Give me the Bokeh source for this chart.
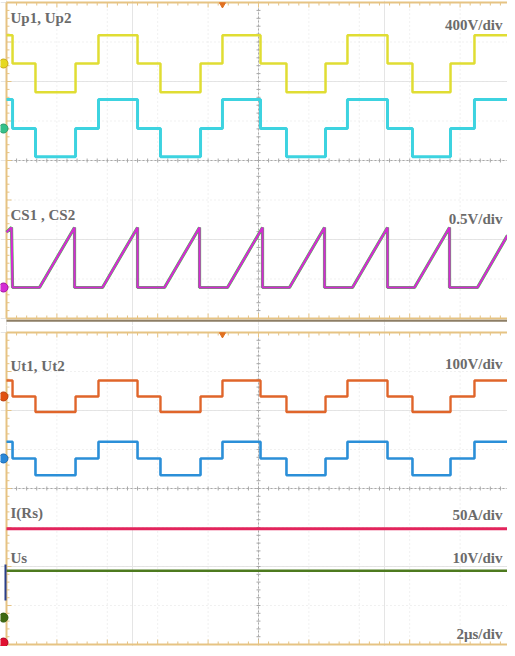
import numpy as np
from bokeh.plotting import figure
from bokeh.models import Range1d, Label
from bokeh.layouts import column
from bokeh.embed import file_html
from bokeh.resources import INLINE

# ---------------- data (time in microseconds, 2 us/div) ----------------
step_t = [-10.0, -9.76, -8.85, -7.26, -6.35, -4.80, -3.89, -2.30, -1.43, 0.08,
          1.11, 2.66, 3.53, 5.12, 6.11, 7.62, 8.57, 9.88]
up1_v = [285, 0, -290, 0, 285, 0, -290, 0, 285, 0, -290, 0, 285, 0, -290, 0, 285, 285]
up2_v = [295, 0, -285, 0, 295, 0, -285, 0, 295, 0, -285, 0, 295, 0, -285, 0, 295, 295]
ut1_v = [41, 0, -40, 0, 41, 0, -40, 0, 41, 0, -40, 0, 41, 0, -40, 0, 41, 41]
ut2_v = [43, 0, -43, 0, 43, 0, -43, 0, 43, 0, -43, 0, 43, 0, -43, 0, 43, 43]

cs_t = [-10.0, -9.80, -9.76, -8.69, -7.30, -7.30, -6.19, -4.80, -4.80, -3.73,
        -2.34, -2.34, -1.23, 0.16, 0.16, 1.23, 2.62, 2.62, 3.73, 5.12, 5.12,
        6.19, 7.58, 7.58, 8.69, 9.88]
cs_v = [0.70, 0.76, 0.0, 0.0, 0.76, 0.0, 0.0, 0.76, 0.0, 0.0,
        0.76, 0.0, 0.0, 0.76, 0.0, 0.0, 0.76, 0.0, 0.0, 0.76, 0.0,
        0.0, 0.76, 0.0, 0.0, 0.66]

flat_t = [-10.0, 9.88]
irs_a = [146, 146]
us_v = [12.0, 12.0]
trigger_t = -1.43

scales = {"up": 400, "cs": 0.5, "ut": 100, "irs": 50, "us": 10}
labels_top = ["Up1, Up2", "400V/div", "CS1 , CS2", "0.5V/div"]
labels_bot = ["Ut1, Ut2", "100V/div", "I(Rs)", "50A/div", "Us", "10V/div", "2\u03bcs/div"]

# ---------------- layout / style ----------------
PX_US = 25.2
TAN = "#e6c383"
GRID = "#e2e2e2"
CENTER = "#a8a8a8"
TXT = "#6b6b6b"
FONT = "Liberation Serif"

offs = {"up1": 2.456, "up2": 0.81, "cs": -3.215, "ut1": 2.36, "ut2": 0.77,
        "irs": -3.95, "us": -3.31}


def to_div(vals, off, scale):
    return [off + v / scale for v in vals]


def make_panel(height, y_range, px_div):
    p = figure(width=507, height=height,
               x_range=Range1d(-10.238, 9.881), y_range=Range1d(*y_range),
               output_backend="svg", toolbar_location=None,
               x_axis_location=None, y_axis_location=None, min_border=0,
               outline_line_color=None, background_fill_color="white",
               border_fill_color="white")
    # faint grid
    gx = np.arange(-8, 9.9, 2.0)
    gx = gx[np.abs(gx) > 1e-6]
    p.segment(x0=gx, y0=[-4] * len(gx), x1=gx, y1=[4] * len(gx),
              line_color=GRID, line_width=1, line_dash="1 3")
    gy = np.arange(-3, 3.5, 1.0)
    gy = gy[np.abs(gy) > 1e-6]
    p.segment(x0=[-10] * len(gy), y0=gy, x1=[9.88] * len(gy), y1=gy,
              line_color=GRID, line_width=1, line_dash="1 3")
    # center cross
    p.segment(x0=[0, -10], y0=[-4, 0], x1=[0, 9.88], y1=[4, 0],
              line_color=CENTER, line_width=1, line_dash="2 2")
    tx = np.arange(-9.6, 9.9, 0.4)
    p.segment(x0=tx, y0=[-2.0 / px_div] * len(tx), x1=tx, y1=[2.0 / px_div] * len(tx),
              line_color=CENTER, line_width=1)
    ty = np.arange(-3.8, 3.9, 0.2)
    p.segment(x0=[-2.0 / PX_US] * len(ty), y0=ty, x1=[2.0 / PX_US] * len(ty), y1=ty,
              line_color=CENTER, line_width=1)
    # border ticks
    bx = np.arange(-9.6, 9.9, 0.4)
    blen = [5.0 if abs(v / 2 - round(v / 2)) < 1e-6 else 3.0 for v in bx]
    p.segment(x0=bx, y0=[4] * len(bx), x1=bx, y1=[4 - l / px_div for l in blen],
              line_color=TAN, line_width=1)
    p.segment(x0=bx, y0=[-4] * len(bx), x1=bx, y1=[-4 + l / px_div for l in blen],
              line_color=TAN, line_width=1)
    by = np.arange(-3.8, 3.9, 0.2)
    llen = [5.0 if abs(v - round(v)) < 1e-6 else 3.0 for v in by]
    p.segment(x0=[-10] * len(by), y0=by, x1=[-10 + l / PX_US for l in llen], y1=by,
              line_color=TAN, line_width=1)
    # borders
    p.line([-10, -10], [-4, 4], line_color=TAN, line_width=2)
    p.line([-10, 9.9], [4, 4], line_color=TAN, line_width=2)
    p.line([-10, 9.9], [-4, -4], line_color=TAN, line_width=2)
    p.scatter(x=[trigger_t], y=[4 - 2.0 / px_div], marker="inverted_triangle",
              size=6, fill_color="#e07020", line_color="#e07020")
    return p


def add_label(p, text, x, y, align="left"):
    p.add_layout(Label(x=x, y=y, text=text, text_font=FONT, text_font_style="bold",
                       text_font_size="15px", text_color=TXT, text_align=align,
                       text_baseline="middle"))


# ---------------- top panel ----------------
p1 = make_panel(325, (-4.177, 4.051), 39.5)
p1.line([-10, 9.9], [-4 - 2.2 / 39.5] * 2, line_color="#8d7e66", line_width=2)
p1.step(step_t, to_div(up1_v, offs["up1"], scales["up"]), mode="after",
        line_color="#e0dd33", line_width=2.5)
p1.step(step_t, to_div(up2_v, offs["up2"], scales["up"]), mode="after",
        line_color="#3dd3e0", line_width=3)
p1.line(cs_t, to_div(cs_v, offs["cs"], scales["cs"]), line_color="#4cc04c", line_width=3.2)
p1.line(cs_t, to_div(cs_v, offs["cs"], scales["cs"]), line_color="#d42bd4", line_width=2.2)
p1.scatter(x=[-10.12] * 3, y=[offs["up1"], offs["up2"], offs["cs"]], size=9,
           fill_color=["#e6d820", "#35c08a", "#d42bd4"],
           line_color=["#c8a818", "#2a9a6a", "#a010a0"])

add_label(p1, labels_top[0], -9.84, 3.62)
add_label(p1, labels_top[1], 9.68, 3.44, "right")
add_label(p1, labels_top[2], -9.84, -1.39)
add_label(p1, labels_top[3], 9.68, -1.49, "right")

# ---------------- bottom panel ----------------
p2 = make_panel(321, (-4.051, 4.179), 39.0)
p2.step(step_t, to_div(ut1_v, offs["ut1"], scales["ut"]), mode="after",
        line_color="#e0652a", line_width=2.4)
p2.step(step_t, to_div(ut2_v, offs["ut2"], scales["ut"]), mode="after",
        line_color="#2b8fd8", line_width=2.6)
p2.line(flat_t, to_div(irs_a, offs["irs"], scales["irs"]), line_color="#e3245c", line_width=3)
p2.line(flat_t, to_div(us_v, offs["us"], scales["us"]), line_color="#4d7a1f", line_width=2.6)
p2.line([-10.04, -10.04], [-1.95, -2.87], line_color="#2a3f8a", line_width=2)
p2.scatter(x=[-10.12] * 4, y=[offs["ut1"], offs["ut2"], offs["us"], offs["irs"]], size=9,
           fill_color=["#e05010", "#2a88d8", "#3f6a12", "#e01030"],
           line_color=["#b84010", "#1a68b0", "#2f5a0a", "#b00020"])

add_label(p2, labels_bot[0], -9.84, 3.15)
add_label(p2, labels_bot[1], 9.68, 3.18, "right")
add_label(p2, labels_bot[2], -9.84, -0.62)
add_label(p2, labels_bot[3], 9.68, -0.67, "right")
add_label(p2, labels_bot[4], -9.84, -1.77)
add_label(p2, labels_bot[5], 9.68, -1.77, "right")
add_label(p2, labels_bot[6], 9.68, -3.74, "right")

layout = column(p1, p2, spacing=0)
open("out.html", "w").write(file_html(layout, INLINE))
